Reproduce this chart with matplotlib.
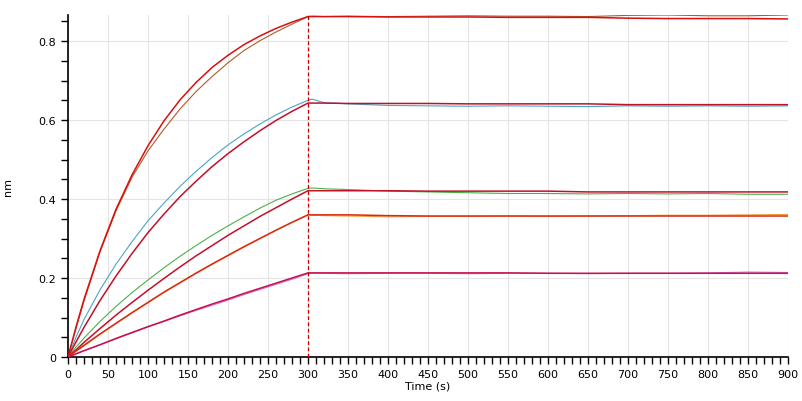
import matplotlib
matplotlib.use("Agg")
import matplotlib.pyplot as plt
from matplotlib.ticker import MultipleLocator

# Time points (s) for association and dissociation phases
t_assoc = [0, 10, 20, 40, 60, 80, 100, 120, 140, 160, 180, 200, 220, 240, 260, 280, 300]
t_dissoc = [300, 305, 320, 350, 400, 450, 500, 550, 600, 650, 700, 750, 800, 850, 900]

# Measured responses (nm), highest to lowest concentration
data1_assoc = [0, 0.072, 0.142, 0.266, 0.370, 0.455, 0.522, 0.577, 0.628, 0.672, 0.710, 0.745, 0.776, 0.801, 0.823, 0.843, 0.862]
data1_dissoc = [0.862, 0.863, 0.862, 0.863, 0.862, 0.863, 0.864, 0.863, 0.863, 0.862, 0.865, 0.866, 0.864, 0.864, 0.866]
data2_assoc = [0, 0.050, 0.095, 0.170, 0.235, 0.292, 0.345, 0.390, 0.432, 0.470, 0.505, 0.537, 0.565, 0.590, 0.613, 0.633, 0.650]
data2_dissoc = [0.650, 0.653, 0.644, 0.641, 0.637, 0.636, 0.635, 0.636, 0.635, 0.634, 0.636, 0.635, 0.636, 0.635, 0.636]
data3_assoc = [0, 0.025, 0.048, 0.090, 0.128, 0.163, 0.195, 0.226, 0.255, 0.282, 0.308, 0.332, 0.355, 0.377, 0.397, 0.413, 0.427]
data3_dissoc = [0.427, 0.428, 0.426, 0.424, 0.420, 0.418, 0.416, 0.414, 0.414, 0.413, 0.414, 0.413, 0.414, 0.412, 0.412]
data4_assoc = [0, 0.016, 0.031, 0.059, 0.086, 0.113, 0.139, 0.165, 0.189, 0.213, 0.236, 0.258, 0.280, 0.301, 0.321, 0.341, 0.360]
data4_dissoc = [0.360, 0.359, 0.358, 0.357, 0.355, 0.356, 0.356, 0.357, 0.356, 0.357, 0.358, 0.359, 0.359, 0.360, 0.361]
data5_assoc = [0, 0.008, 0.016, 0.031, 0.046, 0.061, 0.076, 0.090, 0.104, 0.118, 0.131, 0.144, 0.158, 0.171, 0.184, 0.197, 0.211]
data5_dissoc = [0.211, 0.212, 0.212, 0.211, 0.212, 0.212, 0.211, 0.212, 0.212, 0.211, 0.212, 0.212, 0.213, 0.215, 0.214]

# Fitted curves (nm)
fit1_assoc = [0, 0.076, 0.146, 0.269, 0.374, 0.461, 0.535, 0.598, 0.651, 0.695, 0.733, 0.764, 0.791, 0.813, 0.832, 0.848, 0.862]
fit1_dissoc = [0.862, 0.862, 0.862, 0.862, 0.861, 0.861, 0.861, 0.860, 0.860, 0.860, 0.858, 0.857, 0.857, 0.857, 0.856]
fit2_assoc = [0, 0.038, 0.075, 0.143, 0.205, 0.262, 0.315, 0.362, 0.406, 0.445, 0.482, 0.515, 0.545, 0.573, 0.599, 0.622, 0.643]
fit2_dissoc = [0.643, 0.643, 0.643, 0.642, 0.642, 0.642, 0.641, 0.641, 0.641, 0.641, 0.639, 0.639, 0.639, 0.639, 0.639]
fit3_assoc = [0, 0.018, 0.037, 0.072, 0.106, 0.138, 0.169, 0.199, 0.228, 0.256, 0.282, 0.308, 0.332, 0.356, 0.378, 0.400, 0.421]
fit3_dissoc = [0.421, 0.421, 0.421, 0.421, 0.421, 0.420, 0.420, 0.420, 0.420, 0.418, 0.418, 0.418, 0.418, 0.418, 0.418]
fit4_assoc = [0, 0.015, 0.029, 0.058, 0.085, 0.112, 0.138, 0.164, 0.188, 0.212, 0.235, 0.257, 0.279, 0.300, 0.321, 0.341, 0.360]
fit4_dissoc = [0.360, 0.360, 0.360, 0.360, 0.358, 0.357, 0.357, 0.357, 0.357, 0.357, 0.357, 0.357, 0.357, 0.357, 0.357]
fit5_assoc = [0, 0.008, 0.016, 0.031, 0.047, 0.062, 0.077, 0.091, 0.106, 0.120, 0.134, 0.147, 0.161, 0.174, 0.187, 0.200, 0.213]
fit5_dissoc = [0.213, 0.213, 0.213, 0.213, 0.213, 0.213, 0.213, 0.213, 0.212, 0.212, 0.212, 0.212, 0.212, 0.212, 0.212]

data_colors = ["#b05a2a", "#4aa6c4", "#4cb04a", "#f59a3c", "#c86ad0"]
fit_colors = ["#d81010", "#c0102a", "#c0102a", "#d82a10", "#c8104a"]

data_sets = [(data1_assoc, data1_dissoc), (data2_assoc, data2_dissoc), (data3_assoc, data3_dissoc),
             (data4_assoc, data4_dissoc), (data5_assoc, data5_dissoc)]
fit_sets = [(fit1_assoc, fit1_dissoc), (fit2_assoc, fit2_dissoc), (fit3_assoc, fit3_dissoc),
            (fit4_assoc, fit4_dissoc), (fit5_assoc, fit5_dissoc)]

plt.rcParams["font.family"] = "DejaVu Sans"
fig = plt.figure(figsize=(8.02, 4.02), dpi=100)
ax = fig.add_axes([68 / 802, 1 - 358 / 402, 720 / 802, 342 / 402])

# Measured curves
for (a, d), c in zip(data_sets, data_colors):
    ax.plot(t_assoc + t_dissoc[1:], a + d[1:], color=c, lw=0.8, zorder=2)

# Fitted curves on top
for (a, d), c in zip(fit_sets, fit_colors):
    ax.plot(t_assoc + t_dissoc[1:], a + d[1:], color=c, lw=1.1, zorder=3)

# Start of dissociation
ax.axvline(300, color="#cc0000", lw=0.9, linestyle=(0, (3, 2)), zorder=4)

ax.set_xlim(0, 900)
ax.set_ylim(0, 0.866)
ax.xaxis.set_major_locator(MultipleLocator(50))
ax.xaxis.set_minor_locator(MultipleLocator(10))
ax.yaxis.set_minor_locator(MultipleLocator(0.05))
ax.set_yticks([0, 0.2, 0.4, 0.6, 0.8])
ax.set_yticklabels(["0", "0.2", "0.4", "0.6", "0.8"])

ax.tick_params(which="both", direction="out", length=5, width=1, labelsize=8, colors="black")
ax.grid(True, which="major", color="#e4e4e4", lw=0.8, zorder=0)
ax.set_axisbelow(True)

for side in ["top", "right"]:
    ax.spines[side].set_visible(False)
for side in ["left", "bottom"]:
    ax.spines[side].set_linewidth(1.2)

ax.set_xlabel("Time (s)", fontsize=8, labelpad=1)
ax.set_ylabel("nm", fontsize=8)
ax.yaxis.set_label_coords(-0.077, 0.5)

fig.savefig("out.png", dpi=100)
